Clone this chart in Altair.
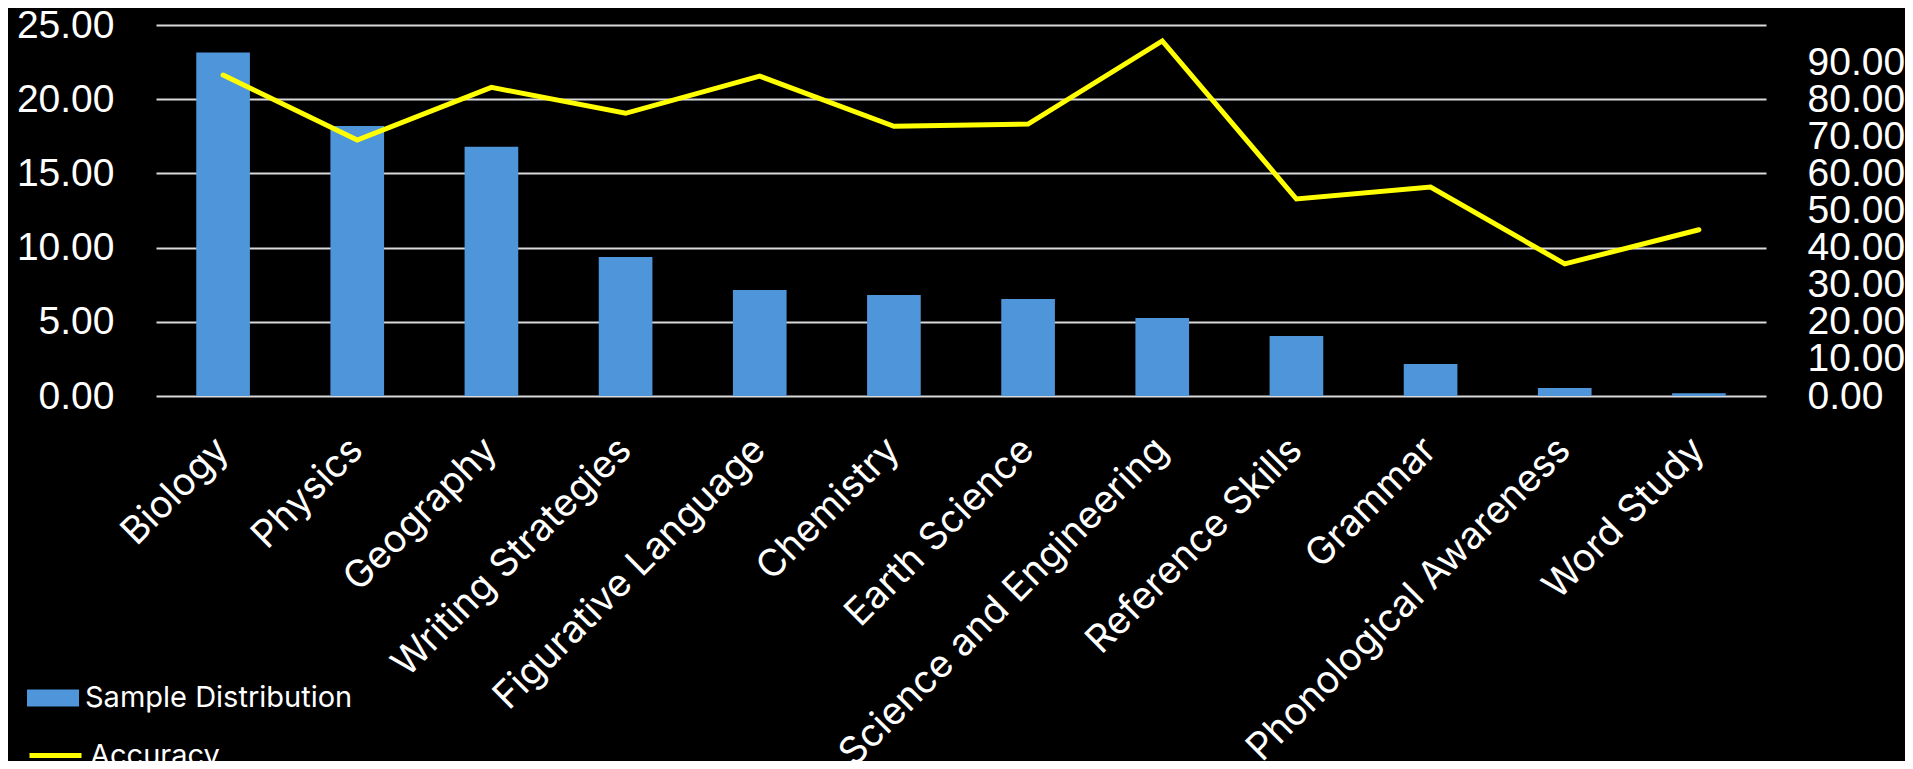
import altair as alt
import pandas as pd

categories = [
    "Biology", "Physics", "Geography", "Writing Strategies", "Figurative Language",
    "Chemistry", "Earth Science", "Science and Engineering", "Reference Skills",
    "Grammar", "Phonological Awareness", "Word Study",
]
sample_distribution = [23.15, 18.20, 16.80, 9.37, 7.15, 6.81, 6.54, 5.26, 4.05, 2.16, 0.54, 0.18]
accuracy = [86.5, 69.0, 83.2, 76.2, 86.2, 72.7, 73.3, 95.7, 53.1, 56.3, 35.6, 44.8]
left_ticks = [0, 5, 10, 15, 20, 25]
right_ticks = [0, 10, 20, 30, 40, 50, 60, 70, 80, 90]

df = pd.DataFrame({
    "Category": categories,
    "Sample Distribution": sample_distribution,
    "Accuracy": accuracy,
    "bar_series": ["Sample Distribution"] * len(categories),
    "line_series": ["Accuracy"] * len(categories),
})

BAR = "#4F95D9"
LINE = "#FFFF00"
NUMFONT = "Liberation Sans"
TXTFONT = "Inter"

x = alt.X(
    "Category:N", sort=categories, title=None,
    scale=alt.Scale(paddingInner=0.6, paddingOuter=0.3),
    axis=alt.Axis(
        labelAngle=-45, labelAlign="right", labelBaseline="middle",
        labelFont=TXTFONT, labelFontSize=38, labelColor="white",
        labelPadding=48, ticks=False, domain=False, grid=False,
        labelLimit=0,
    ),
)

bars = alt.Chart(df).mark_bar(color=BAR).encode(
    x=x,
    y=alt.Y(
        "Sample Distribution:Q", title=None,
        scale=alt.Scale(domain=[0, 25], nice=False),
        axis=alt.Axis(
            values=left_ticks, format=".2f", orient="left",
            labelFont=NUMFONT, labelFontSize=39, labelColor="white",
            labelPadding=42, ticks=False, domain=False,
            grid=True, gridColor="#d9d9d9", gridWidth=2,
            labelOverlap=False,
        ),
    ),
    fill=alt.Fill(
        "bar_series:N", scale=alt.Scale(range=[BAR]),
        legend=alt.Legend(
            title=None, orient="none", legendX=-129, legendY=647,
            symbolType="M-1,-0.327L1,-0.327L1,0.327L-1,0.327Z",
            symbolSize=2704, symbolStrokeWidth=0, symbolOpacity=1,
            labelFont=TXTFONT, labelFontSize=29, labelColor="white",
            labelOffset=6, padding=0, labelLimit=0,
        ),
    ),
)

line = alt.Chart(df).mark_line(color=LINE, strokeWidth=5, strokeCap="round").encode(
    x=x,
    y=alt.Y(
        "Accuracy:Q", title=None,
        scale=alt.Scale(domain=[0, 100], nice=False),
        axis=alt.Axis(
            values=right_ticks, format=".2f", orient="right",
            labelFont=NUMFONT, labelFontSize=39, labelColor="white",
            labelPadding=41, ticks=False, domain=False, grid=False,
            labelOverlap=False,
        ),
    ),
    stroke=alt.Stroke(
        "line_series:N", scale=alt.Scale(range=[LINE]),
        legend=alt.Legend(
            title=None, orient="none", legendX=-129, legendY=702,
            symbolType="stroke", symbolSize=2704, symbolStrokeWidth=5,
            labelFont=TXTFONT, labelFontSize=29, labelColor="white",
            labelOffset=6, padding=0, labelLimit=0,
        ),
    ),
)

chart = (
    alt.layer(bars, line)
    .resolve_scale(y="independent")
    .properties(
        width=1610, height=371,
        autosize=alt.AutoSizeParams(type="none"),
        padding={"left": 148, "top": 17, "right": 139, "bottom": 365},
        background="black",
    )
    .configure_view(stroke=None)
)

chart.save("out.html", embed_options={"renderer": "svg", "actions": False})
